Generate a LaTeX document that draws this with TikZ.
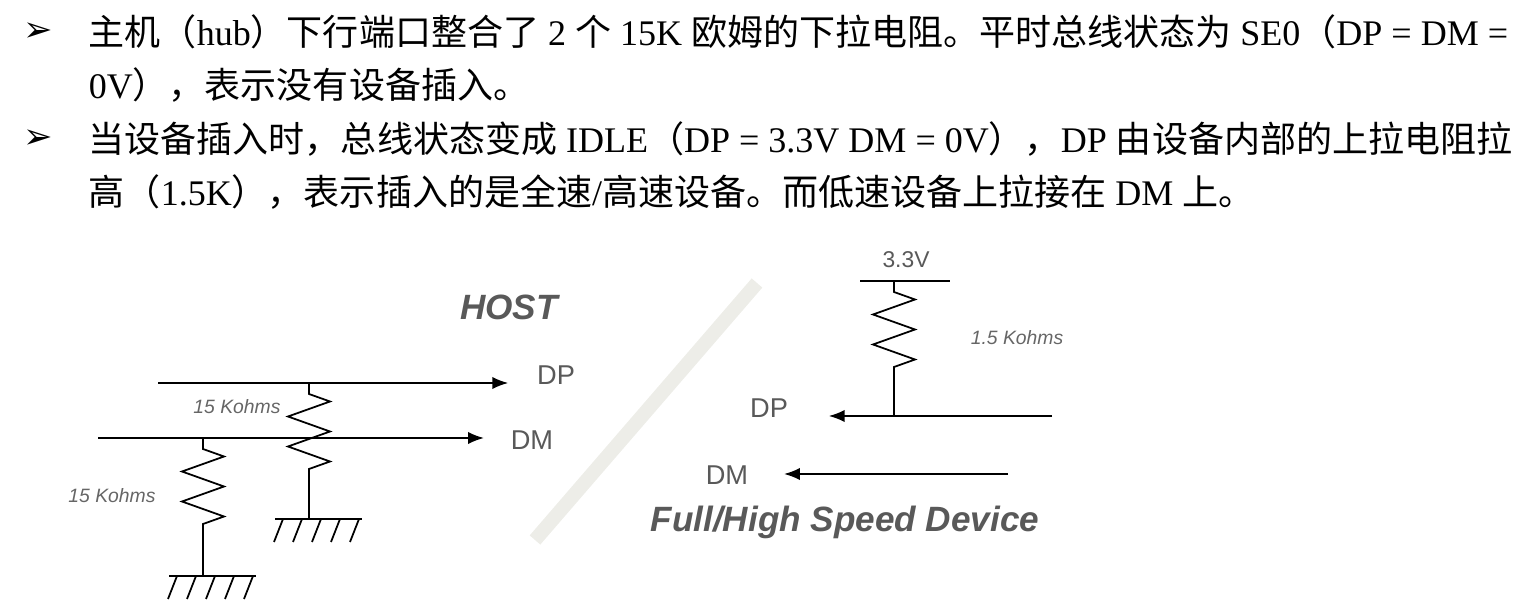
\documentclass[tikz,border=0pt]{standalone}
\usepackage{fontspec}
\setmainfont{Liberation Serif}
\setsansfont{Liberation Sans}
\newfontfamily\cjk{Noto Sans CJK SC}
\newfontfamily\arrowfont{DejaVu Sans}
\usetikzlibrary{arrows,arrows.meta,positioning,calc}

% zigzag resistor between two named coordinates (vertical)
\newcommand{\resistor}[2]{%
  \draw ($(#1)$) -- ++(0,11) -- ++(21,7.5) -- ++(-42,15) -- ++(42,15) -- ++(-42,15) -- ++(42,15) -- ++(-21,7.5) -- (#2);}
% ground symbol at a named coordinate
\newcommand{\ground}[1]{%
  \draw ($(#1)+(-34,0)$) -- ($(#1)+(53,0)$);
  \foreach \i in {0,...,4} \draw ($(#1)+(-26+\i*19,0)$) -- ++(-9,23);}

\begin{document}
\begin{tikzpicture}[x=0.02cm, y=-0.02cm, >={Latex[length=9pt,width=7pt]}, line width=1pt,
  bodytext/.style={anchor=west, inner sep=0pt, font=\fontsize{20.5}{24}\selectfont},
  bullet/.style={inner sep=0pt, font=\arrowfont\fontsize{20}{24}\selectfont},
  pinlabel/.style={text=black!65, inner sep=0pt, font=\sffamily\fontsize{15.5}{18}\selectfont},
  reslabel/.style={text=black!60, inner sep=0pt, font=\sffamily\itshape\fontsize{11}{13}\selectfont},
  title/.style={text=black!65, inner sep=0pt, font=\sffamily\bfseries\itshape\fontsize{20}{24}\selectfont}]

\useasboundingbox (0,0) rectangle (1529,614);

%text lines
\node [bullet] (b1) at (38,32) {➢};
\node [bullet] (b2) at (38,139) {➢};
\node [bodytext] (l1) at (88,32) {{\cjk 主机（}hub{\cjk ）下行端口整合了} 2 {\cjk 个} 15K {\cjk 欧姆的下拉电阻。平时总线状态为} SE0{\cjk （}DP = DM =};
\node [bodytext] (l2) at (88,85) {0V{\cjk ），表示没有设备插入。}};
\node [bodytext] (l3) at (88,139) {{\cjk 当设备插入时，总线状态变成} IDLE{\cjk （}DP = 3.3V DM = 0V{\cjk ），}DP {\cjk 由设备内部的上拉电阻拉}};
\node [bodytext] (l4) at (88,192) {{\cjk 高（}1.5K{\cjk ），表示插入的是全速}/{\cjk 高速设备。而低速设备上拉接在} DM {\cjk 上。}};

%divider
\draw [line width=8pt, color=yellow!20!black!10] (535,540) -- (757,283);

%host side
\node [title] (host) at (509,307) {HOST};
\node [pinlabel] (hostDP) at (556,375) {DP};
\node [pinlabel] (hostDM) at (532,440) {DM};
\coordinate (dpStart) at (158,383);
\coordinate (dmStart) at (98,438);
\draw [->] (dpStart) -- ($(hostDP.west |- dpStart)+(-28,0)$);
\draw [->] (dmStart) -- ($(hostDM.west |- dmStart)+(-26,0)$);

\coordinate (rDPtop) at (309,383);
\coordinate (rDPbot) at (309,519);
\coordinate (rDMtop) at (203,438);
\coordinate (rDMbot) at (203,576);
\resistor{rDPtop}{rDPbot}
\resistor{rDMtop}{rDMbot}
\ground{rDPbot}
\ground{rDMbot}
\node [reslabel] (rDPlabel) at (237,407) {15 Kohms};
\node [reslabel] (rDMlabel) at (112,496) {15 Kohms};

%device side
\node [title] (device) at (845,522) {Full/High Speed Device};
\node [pinlabel, font=\sffamily\fontsize{13}{15}\selectfont] (vcc) at (906,260) {3.3V};
\node [reslabel] (rPUlabel) at (1017,338) {1.5 Kohms};
\node [pinlabel] (devDP) at (769,408) {DP};
\node [pinlabel] (devDM) at (727,475) {DM};
\coordinate (rPUtop) at (894,281);
\coordinate (rPUbot) at (894,416);
\coordinate (dpEnd) at (1052,416);
\coordinate (dmEnd) at (1008,474);
\draw (860,281) -- (950,281);
\resistor{rPUtop}{rPUbot}
\draw [->] (dpEnd) -- ($(devDP.east |- dpEnd)+(40,0)$);
\draw [->] (dmEnd) -- ($(devDM.east |- dmEnd)+(35,0)$);

\end{tikzpicture}
\end{document}
